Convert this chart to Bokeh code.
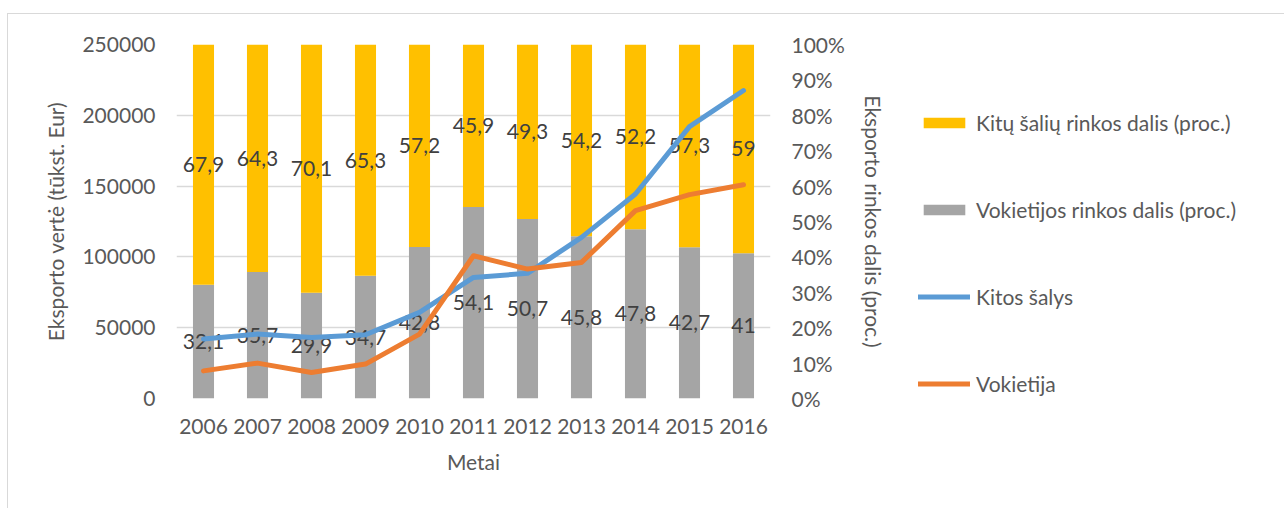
from bokeh.plotting import figure
from bokeh.layouts import row
from bokeh.models import (Range1d, LinearAxis, FactorRange, PrintfTickFormatter,
                          BasicTickFormatter, FixedTicker, Legend, LegendItem,
                          ColumnDataSource)
from bokeh.core.properties import value
from bokeh.embed import file_html
from bokeh.resources import INLINE

years = ["2006", "2007", "2008", "2009", "2010", "2011", "2012", "2013", "2014", "2015", "2016"]
vokietijos_dalis = [32.1, 35.7, 29.9, 34.7, 42.8, 54.1, 50.7, 45.8, 47.8, 42.7, 41.0]
kitu_dalis = [67.9, 64.3, 70.1, 65.3, 57.2, 45.9, 49.3, 54.2, 52.2, 57.3, 59.0]
kitos_salys = [42000, 45500, 43000, 45000, 60800, 85500, 88400, 113800, 144400, 192000, 217500]
vokietija = [19500, 25000, 18400, 24300, 45500, 100800, 91400, 96100, 132700, 144000, 151000]

series_labels = ["Kitų šalių rinkos dalis (proc.)", "Vokietijos rinkos dalis (proc.)",
                 "Kitos šalys", "Vokietija"]

FONT = "Lato"
TXT = "#595959"
C_YEL, C_GRY, C_BLU, C_ORG = "#FFC000", "#A5A5A5", "#5B9BD5", "#ED7D31"

def fmt(v):
    return f"{v:g}".replace(".", ",")

src = ColumnDataSource(dict(
    year=years,
    vok=vokietijos_dalis,
    kit=kitu_dalis,
    vok_mid=[v / 2 for v in vokietijos_dalis],
    kit_mid=[v + k / 2 for v, k in zip(vokietijos_dalis, kitu_dalis)],
    vok_lbl=[fmt(v) for v in vokietijos_dalis],
    kit_lbl=[fmt(v) for v in kitu_dalis],
    kitos=kitos_salys,
    vokietija=vokietija,
))

p = figure(width=892, height=494, output_backend="svg", toolbar_location=None,
           x_range=FactorRange(factors=years, range_padding=0),
           y_range=Range1d(0, 250000),
           min_border_left=168, min_border_right=130, min_border_top=30, min_border_bottom=110)
p.extra_y_ranges = {"pct": Range1d(0, 100)}
p.outline_line_color = None
p.background_fill_color = "white"
p.border_fill_color = "white"

# bars
p.vbar_stack(["vok", "kit"], x="year", width=0.39, source=src, y_range_name="pct",
             color=[C_GRY, C_YEL], line_color=None)

# data labels
for ycol, tcol in (("vok_mid", "vok_lbl"), ("kit_mid", "kit_lbl")):
    p.text(x="year", y=ycol, text=tcol, source=src, y_range_name="pct",
           text_align="center", text_baseline="middle", text_color="#404040",
           text_font=value(FONT), text_font_size="21px")

# lines
p.line(x="year", y="kitos", source=src, line_color=C_BLU, line_width=5,
       line_join="round", line_cap="round")
p.line(x="year", y="vokietija", source=src, line_color=C_ORG, line_width=5,
       line_join="round", line_cap="round")

# axes
p.xgrid.grid_line_color = None
p.ygrid.grid_line_color = "#D9D9D9"
p.ygrid.grid_line_width = 1.5
p.yaxis.ticker = FixedTicker(ticks=[0, 50000, 100000, 150000, 200000, 250000])
p.ygrid.ticker = FixedTicker(ticks=[0, 50000, 100000, 150000, 200000, 250000])
p.yaxis.formatter = BasicTickFormatter(use_scientific=False)
p.yaxis.axis_label = "Eksporto vertė (tūkst. Eur)"

right = LinearAxis(y_range_name="pct", ticker=FixedTicker(ticks=list(range(0, 101, 10))),
                   formatter=PrintfTickFormatter(format="%d%%"),
                   axis_label="Eksporto rinkos dalis (proc.)")
p.add_layout(right, "right")

p.xaxis.axis_label = "Metai"

for ax in (p.xaxis[0], p.yaxis[0], right):
    ax.axis_line_color = None
    ax.major_tick_line_color = None
    ax.minor_tick_line_color = None
    ax.major_tick_out = 0
    ax.major_tick_in = 0
    ax.minor_tick_out = 0
    ax.major_label_text_font = FONT
    ax.major_label_text_font_size = "21px"
    ax.major_label_text_color = TXT
    ax.axis_label_text_font = FONT
    ax.axis_label_text_font_size = "21px"
    ax.axis_label_text_font_style = "normal"
    ax.axis_label_text_color = TXT

p.yaxis[0].major_label_standoff = 21
p.yaxis[0].axis_label_standoff = 11
right.major_label_standoff = 21
right.axis_label_standoff = 13
p.xaxis[0].major_label_standoff = 20
p.xaxis[0].axis_label_standoff = 12

# legend panel: a second figure; its renderers reference the same data, but their
# factors are not in its range, so only the legend glyphs appear
lg = figure(width=384, height=494, output_backend="svg", toolbar_location=None,
            x_range=FactorRange(factors=["_"]), y_range=Range1d(-2, -1),
            x_axis_type=None, y_axis_type=None,
            min_border_left=0, min_border_right=0, min_border_top=30, min_border_bottom=110)
lg.grid.visible = False
lg.outline_line_color = None
r_yel = lg.vbar(x="year", top="kit", width=0.39, source=src, color=C_YEL, line_color=None)
r_gry = lg.vbar(x="year", top="vok", width=0.39, source=src, color=C_GRY, line_color=None)
r_blu = lg.line(x="year", y="kitos", source=src, line_color=C_BLU, line_width=5, line_cap="round")
r_org = lg.line(x="year", y="vokietija", source=src, line_color=C_ORG, line_width=5, line_cap="round")

legend = Legend(items=[LegendItem(label=lab, renderers=[r])
                       for lab, r in zip(series_labels, [r_yel, r_gry, r_blu, r_org])],
                location=(18, 2))
legend.padding = 0
legend.margin = 0
legend.spacing = 62
legend.glyph_width = 52
legend.glyph_height = 13
legend.label_height = 25
legend.label_standoff = 6
legend.label_text_font = FONT
legend.label_text_font_size = "21px"
legend.label_text_color = TXT
legend.background_fill_alpha = 0
legend.border_line_alpha = 0
lg.add_layout(legend, "center")

layout = row(p, lg, spacing=0,
             styles={"margin-left": "7px", "margin-top": "13px",
                     "border-left": "1px solid #D9D9D9", "border-top": "1px solid #D9D9D9"})

open("out.html", "w").write(file_html(layout, INLINE))
